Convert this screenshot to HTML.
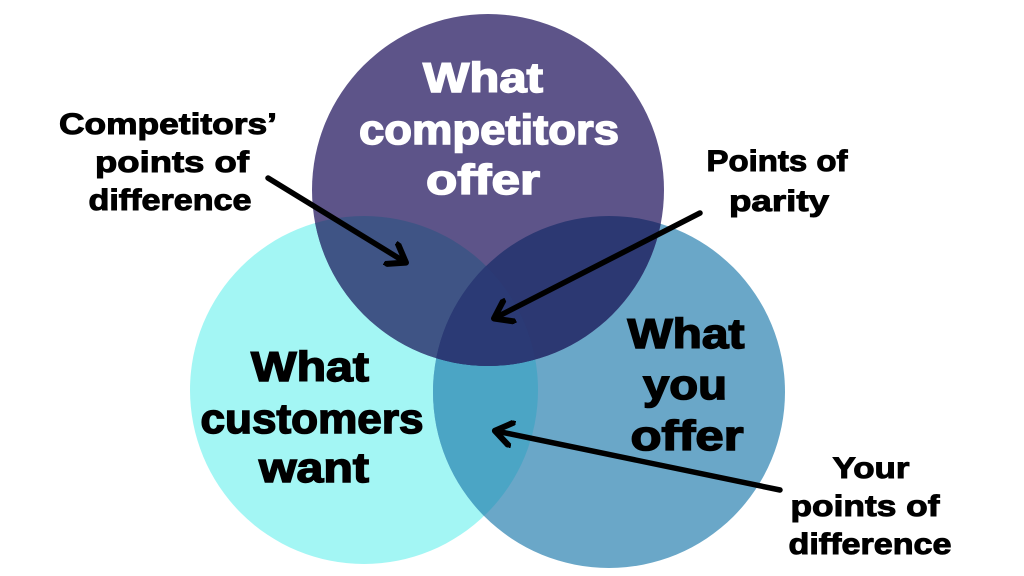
<!DOCTYPE html>
<html><head><meta charset="utf-8"><style>
html,body{margin:0;padding:0;background:#fff;}
svg{display:block;}
text{font-family:"Liberation Sans","DejaVu Sans",sans-serif;font-weight:bold;text-anchor:middle;}
</style></head><body>
<svg width="1024" height="576" viewBox="0 0 1024 576" xmlns="http://www.w3.org/2000/svg">
<defs>
<clipPath id="cT"><circle cx="488" cy="190" r="176"/></clipPath>
<clipPath id="cL"><circle cx="364" cy="390" r="174"/></clipPath>
<clipPath id="cR"><circle cx="609" cy="392" r="176"/></clipPath>
<marker id="ah" markerWidth="5" markerHeight="5" refX="3.2" refY="2.5" orient="auto" markerUnits="strokeWidth">
<path d="M0.3,0.3 L3.4,2.5 L0.3,4.7" fill="none" stroke="#000" stroke-width="1.1" stroke-linecap="round" stroke-linejoin="round"/>
</marker>
</defs>
<circle cx="364" cy="390" r="174" fill="#a3f6f4"/>
<circle cx="609" cy="392" r="176" fill="#6aa7c8"/>
<circle cx="488" cy="190" r="176" fill="#5d5489"/>
<g clip-path="url(#cL)"><circle cx="609" cy="392" r="176" fill="#4ba5c5"/></g>
<g clip-path="url(#cT)"><circle cx="364" cy="390" r="174" fill="#3f5485"/><circle cx="609" cy="392" r="176" fill="#2c3872"/></g>
<g clip-path="url(#cT)"><g clip-path="url(#cL)"><circle cx="609" cy="392" r="176" fill="#2b3a75"/></g></g>

<g fill="#fff" stroke="#fff" stroke-width="1.5" font-size="42" lengthAdjust="spacingAndGlyphs">
<text x="483" y="92" textLength="120" lengthAdjust="spacingAndGlyphs">What</text>
<text x="489" y="144" textLength="260" lengthAdjust="spacingAndGlyphs">competitors</text>
<text x="483" y="194" textLength="114" lengthAdjust="spacingAndGlyphs">offer</text>
</g>
<g fill="#000" stroke="#000" stroke-width="1.5" font-size="42">
<text x="310" y="381" textLength="118" lengthAdjust="spacingAndGlyphs">What</text>
<text x="312" y="433" textLength="223" lengthAdjust="spacingAndGlyphs">customers</text>
<text x="314" y="482" textLength="110" lengthAdjust="spacingAndGlyphs">want</text>
<text x="686" y="348" textLength="117" lengthAdjust="spacingAndGlyphs">What</text>
<text x="685" y="399" textLength="84" lengthAdjust="spacingAndGlyphs">you</text>
<text x="687" y="450" textLength="113" lengthAdjust="spacingAndGlyphs">offer</text>
</g>
<g fill="#000" stroke="#000" stroke-width="1" font-size="30">
<text x="168" y="134" textLength="218" lengthAdjust="spacingAndGlyphs">Competitors’</text>
<text x="172" y="172" textLength="154" lengthAdjust="spacingAndGlyphs">points of</text>
<text x="170" y="210" textLength="163" lengthAdjust="spacingAndGlyphs">difference</text>
<text x="777" y="171" textLength="141" lengthAdjust="spacingAndGlyphs">Points of</text>
<text x="779" y="211" textLength="100" lengthAdjust="spacingAndGlyphs">parity</text>
<text x="871" y="478" textLength="77" lengthAdjust="spacingAndGlyphs">Your</text>
<text x="865" y="516" textLength="149" lengthAdjust="spacingAndGlyphs">points of</text>
<text x="870" y="554" textLength="163" lengthAdjust="spacingAndGlyphs">difference</text>
</g>
<g stroke="#000" stroke-width="5.5" stroke-linecap="round" fill="none">
<line x1="268" y1="178" x2="405" y2="262" marker-end="url(#ah)"/>
<line x1="700" y1="213" x2="495" y2="318" marker-end="url(#ah)"/>
<line x1="780" y1="490" x2="496" y2="431" marker-end="url(#ah)"/>
</g>
</svg>
</body></html>
